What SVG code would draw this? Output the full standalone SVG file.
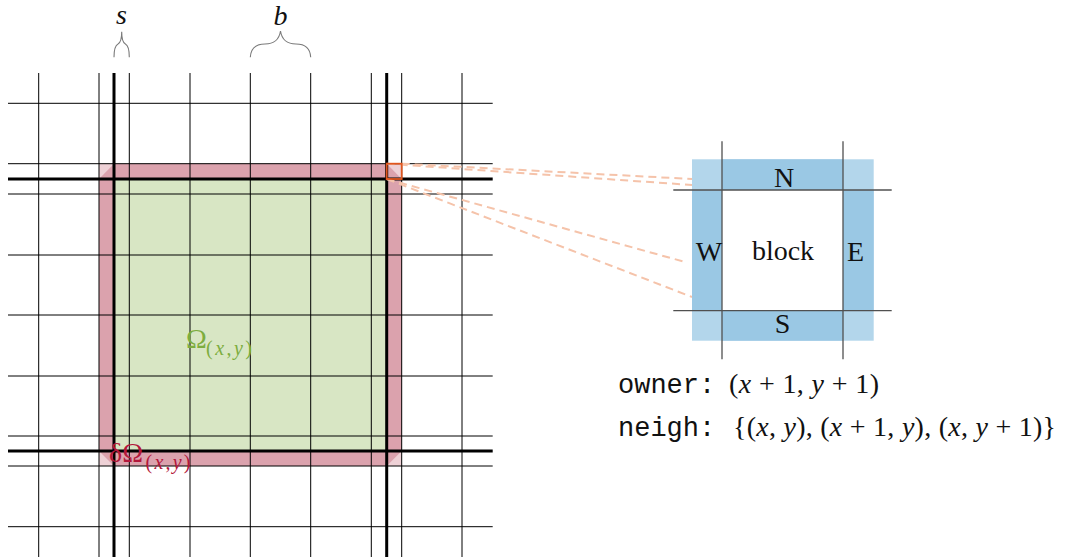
<svg xmlns="http://www.w3.org/2000/svg" width="1078" height="559" viewBox="0 0 1078 559">
<style>
.g{stroke:#000;stroke-width:1;fill:none}
.gt{stroke:#000;stroke-width:3;fill:none}
.bl{stroke:#505050;stroke-width:1.3;fill:none}
.br{stroke:#7a7a7a;stroke-width:1.1;fill:none}
.ds{stroke:#f5c3aa;stroke-width:2;stroke-dasharray:8 5;fill:none}
.t{font-family:"Liberation Serif",serif;font-size:28px;fill:#111}
.i{font-style:italic}
.mono{font-family:"Liberation Mono",monospace;font-size:27px;fill:#111}
</style>
<rect width="1078" height="559" fill="#fff"/>
<g id="region">
<rect x="99" y="163.7" width="302.7" height="302.3" fill="#eed1d6"/>
<polygon points="114,163.7 386.7,163.7 401.7,179 401.7,451 386.7,466 114,466 99,451 99,179" fill="#dba2ad"/>
<rect x="114" y="179" width="272.7" height="272" fill="#d8e6c4"/>
</g>
<g id="grid">
<line class="g" x1="38.7" y1="73" x2="38.7" y2="557"/>
<line class="g" x1="99" y1="73" x2="99" y2="557"/>
<line class="g" x1="129.3" y1="73" x2="129.3" y2="557"/>
<line class="g" x1="190" y1="73" x2="190" y2="557"/>
<line class="g" x1="250.3" y1="73" x2="250.3" y2="557"/>
<line class="g" x1="310.7" y1="73" x2="310.7" y2="557"/>
<line class="g" x1="371.3" y1="73" x2="371.3" y2="557"/>
<line class="g" x1="401.7" y1="73" x2="401.7" y2="557"/>
<line class="g" x1="462" y1="73" x2="462" y2="557"/>
<line class="g" x1="8" y1="103.3" x2="492.7" y2="103.3"/>
<line class="g" x1="8" y1="163.7" x2="492.7" y2="163.7"/>
<line class="g" x1="8" y1="194" x2="492.7" y2="194"/>
<line class="g" x1="8" y1="255" x2="492.7" y2="255"/>
<line class="g" x1="8" y1="315" x2="492.7" y2="315"/>
<line class="g" x1="8" y1="376" x2="492.7" y2="376"/>
<line class="g" x1="8" y1="436" x2="492.7" y2="436"/>
<line class="g" x1="8" y1="466" x2="492.7" y2="466"/>
<line class="g" x1="8" y1="526.7" x2="492.7" y2="526.7"/>
<line class="gt" x1="114" y1="73" x2="114" y2="557"/>
<line class="gt" x1="386.7" y1="73" x2="386.7" y2="557"/>
<line class="gt" x1="8" y1="179" x2="492.7" y2="179"/>
<line class="gt" x1="8" y1="451" x2="492.7" y2="451"/>
</g>
<g id="braces">
<path class="br" d="M114,57.3 Q114,46 118,44 Q121.7,42 121.7,31.7 Q121.7,42 125.4,44 Q129.3,46 129.3,57.3"/>
<path class="br" d="M250.3,57.3 Q251,44 265,44 Q278.5,44 280.5,31 Q282.5,44 296,44 Q310,44 310.7,57.3"/>
<text class="t i" x="121.5" y="24" text-anchor="middle">s</text>
<text class="t i" x="280.5" y="25" text-anchor="middle">b</text>
</g>
<g id="labels">
<text class="t" x="186" y="348" style="fill:#7dad3e">Ω</text>
<text class="t" x="206" y="355" style="fill:#7dad3e;font-size:20px" textLength="46" lengthAdjust="spacing">(<tspan class="i">x</tspan>,<tspan class="i">y</tspan>)</text>
<text class="t" x="109" y="462" style="fill:#b3173b">δΩ</text>
<text class="t" x="145.5" y="469" style="fill:#b3173b;font-size:20px" textLength="45" lengthAdjust="spacing">(<tspan class="i">x</tspan>,<tspan class="i">y</tspan>)</text>
</g>
<g id="connectors">
<line class="ds" x1="401.7" y1="163.7" x2="692" y2="179"/>
<line class="ds" x1="386.7" y1="163.7" x2="692" y2="185"/>
<line class="ds" x1="386.7" y1="179" x2="685" y2="262"/>
<line class="ds" x1="386.7" y1="179" x2="692" y2="297"/>
</g>
<g id="zoom-box">
<rect x="386.7" y="163.7" width="15" height="15.3" fill="none" stroke="#e0561e" stroke-width="1.8"/>
</g>
<g id="block">
<rect x="692" y="159.3" width="181.7" height="181.4" fill="#b3d6eb"/>
<rect x="722" y="159.3" width="121" height="30.7" fill="#9ac8e4"/>
<rect x="722" y="310.7" width="121" height="30" fill="#9ac8e4"/>
<rect x="692" y="190" width="30" height="120.7" fill="#9ac8e4"/>
<rect x="843" y="190" width="30.7" height="120.7" fill="#9ac8e4"/>
<rect x="722" y="190" width="121" height="120.7" fill="#fff"/>
<line class="bl" x1="722" y1="141.3" x2="722" y2="359.3"/>
<line class="bl" x1="843" y1="141.3" x2="843" y2="359.3"/>
<line class="bl" x1="673.3" y1="190" x2="891.7" y2="190"/>
<line class="bl" x1="673.3" y1="310.7" x2="891.7" y2="310.7"/>
<text class="t" x="784" y="187.3" text-anchor="middle">N</text>
<text class="t" x="782.5" y="333.3" text-anchor="middle">S</text>
<text class="t" x="709" y="260.7" text-anchor="middle">W</text>
<text class="t" x="855.5" y="260.7" text-anchor="middle">E</text>
<text class="t" x="783" y="260.3" text-anchor="middle">block</text>
</g>
<g id="info">
<text class="mono" x="618" y="393">owner:</text>
<text class="t" x="729" y="393" textLength="150" lengthAdjust="spacing">(<tspan class="i">x</tspan> + 1, <tspan class="i">y</tspan> + 1)</text>
<text class="mono" x="618" y="436">neigh:</text>
<text class="t" x="733" y="436" textLength="323" lengthAdjust="spacing">{(<tspan class="i">x</tspan>, <tspan class="i">y</tspan>), (<tspan class="i">x</tspan> + 1, <tspan class="i">y</tspan>), (<tspan class="i">x</tspan>, <tspan class="i">y</tspan> + 1)}</text>
</g>
</svg>
